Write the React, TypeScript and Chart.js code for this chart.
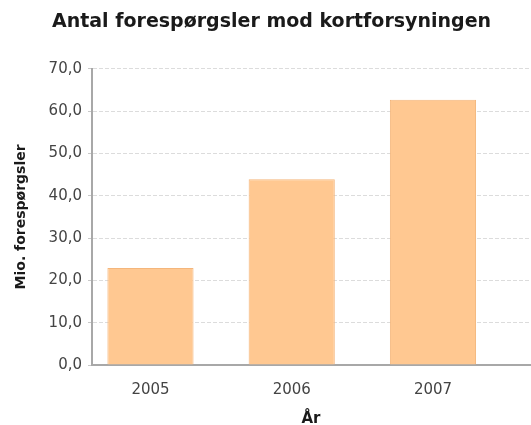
import React, { useEffect, useRef } from "react";
import { Chart, registerables } from "chart.js";

Chart.register(...registerables);

const years = [2005, 2006, 2007];
const values = [22.9, 43.9, 62.7];
const chartTitle = "Antal forespørgsler mod kortforsyningen";
const yTitle = "Mio. forespørgsler";
const xTitle = "År";

export default function App() {
  const ref = useRef<HTMLCanvasElement | null>(null);
  useEffect(() => {
    if (!ref.current) return;
    const font = "'DejaVu Sans', Verdana, sans-serif";
    const chart = new Chart(ref.current, {
      type: "bar",
      data: {
        datasets: [
          {
            data: years.map((y, i) => ({ x: y, y: values[i] })),
            backgroundColor: "#FFC891",
            borderColor: "#F4B67C",
            borderWidth: 1,
            barPercentage: 1,
            categoryPercentage: 0.61,
          },
        ],
      },
      options: {
        responsive: false,
        animation: false,
        layout: { padding: { top: 0, right: 1, bottom: 0, left: 13 } },
        plugins: {
          legend: { display: false },
          tooltip: { enabled: false },
          title: {
            display: true,
            text: chartTitle,
            color: "#1a1a1a",
            font: { family: font, size: 19, weight: "bold" },
            padding: { top: 11, bottom: 35 },
          },
        },
        scales: {
          x: {
            type: "linear",
            offset: false,
            min: 2004.586,
            max: 2007.687,
            afterBuildTicks: (s: any) => {
              s.ticks = years.map((v) => ({ value: v }));
            },
            afterFit: (s: any) => {
              s.height = 60;
            },
            grid: { display: false, drawTicks: false },
            border: { display: true, color: "#a8a8a8", width: 2 },
            ticks: {
              color: "#444",
              font: { family: font, size: 15 },
              padding: 16,
              callback: (v: any) => String(v),
            },
            title: {
              display: true,
              text: xTitle,
              color: "#1a1a1a",
              font: { family: font, size: 15, weight: "bold" },
              padding: { top: 0, bottom: -3 },
            },
          },
          y: {
            min: 0,
            max: 70,
            afterFit: (s: any) => {
              s.width = 79;
            },
            grid: {
              color: "#dcdcdc",
              tickColor: "#c8c8c8",
              tickLength: 4,
            },
            border: { display: true, color: "#a8a8a8", width: 2, dash: [4, 2] },
            ticks: {
              stepSize: 10,
              color: "#444",
              font: { family: font, size: 15 },
              padding: 6,
              callback: (v: any) => Number(v).toFixed(1).replace(".", ","),
            },
            title: {
              display: true,
              text: yTitle,
              color: "#1a1a1a",
              font: { family: font, size: 14, weight: "bold" },
              padding: { top: 0, bottom: 0 },
            },
          },
        },
      },
    });
    return () => chart.destroy();
  }, []);
  return (
    <div style={{ position: "fixed", left: 0, top: 0, width: 531, height: 425, background: "#fff" }}>
      <canvas ref={ref} width={531} height={425} />
    </div>
  );
}
